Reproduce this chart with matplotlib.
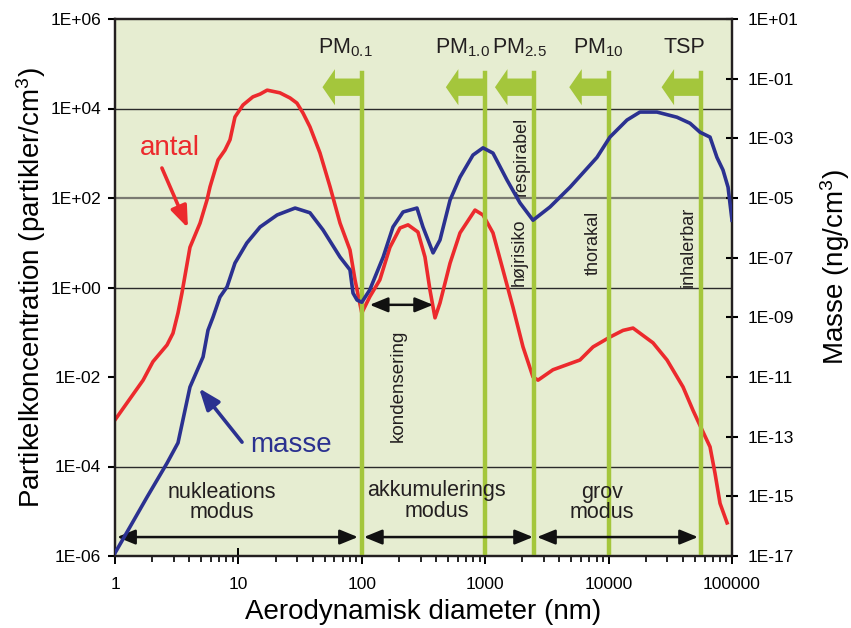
import matplotlib
matplotlib.use("Agg")
import matplotlib.pyplot as plt
from matplotlib.ticker import FixedLocator, FixedFormatter, NullLocator, NullFormatter, LogLocator

plt.rcParams['font.family'] = ['Liberation Sans', 'DejaVu Sans']
plt.rcParams['mathtext.fontset'] = 'custom'
plt.rcParams['mathtext.rm'] = 'Liberation Sans'
plt.rcParams['mathtext.it'] = 'Liberation Sans:italic'

# antal - number concentration (partikler/cm3), left axis
antal_d = [1, 1.69, 2.03, 2.64, 2.95, 3.24, 3.49, 4.05, 4.89, 5.57, 5.89, 6.84, 7.78, 8.55, 9.38,
           10.9, 13.1, 15.0, 17.1, 21.7, 26.2, 29.8, 33.4, 38.0, 45.8, 55.3, 66.6, 80.2, 88.1, 100,
           116, 140, 169, 204, 237, 285, 325, 357, 392, 430, 519, 625, 827, 960, 1156, 1394, 1680,
           2025, 2440, 2680, 3540, 5860, 7480, 10250, 13090, 15770, 22900, 29740, 40090, 48300,
           57150, 66350, 72800, 80000, 91200]
antal_n = [1.1e-3, 8.5e-3, 2.2e-2, 5.2e-2, 9.5e-2, 0.27, 0.76, 7.9, 27.5, 91, 178, 708, 1175,
           2000, 6460, 12000, 18200, 21000, 25700, 22400, 17200, 13200, 7900, 3890, 1020, 178, 27.5,
           6.9, 1.48, 0.27, 0.62, 1.48, 7.9, 21.4, 25.1, 17.4, 4.8, 0.87, 0.21, 0.45, 3.5, 16.6,
           53.7, 41.7, 16.6, 2.45, 0.36, 0.047, 0.010, 0.0085, 0.0145, 0.024, 0.047, 0.078, 0.11,
           0.124, 0.058, 0.024, 0.006, 0.0018, 6.6e-4, 2.75e-4, 7.1e-5, 1.5e-5, 5.5e-6]

# masse - mass concentration (ng/cm3), right axis
masse_d = [1, 1.32, 1.82, 2.64, 3.24, 4.05, 5.17, 5.67, 6.22, 7.09, 8.09, 9.38, 11.7, 15.0, 20.6,
           28.8, 38.0, 48.5, 66.6, 80.2, 84.9, 91.5, 100, 116, 149, 179, 216, 280, 313, 378, 430,
           519, 625, 796, 960, 1156, 1502, 1916, 2440, 3350, 4870, 8050, 10250, 14090, 17950,
           24660, 35800, 45700, 55100, 66350, 75500, 84500, 92900, 100000]
masse_m = [1.26e-17, 9.3e-17, 9.5e-16, 1.3e-14, 6.2e-14, 4.6e-12, 4.7e-11, 3.7e-10, 1.0e-9,
           4.8e-9, 1.05e-8, 6.6e-8, 3.1e-7, 1.07e-6, 2.7e-6, 4.6e-6, 3.2e-6, 8.5e-7, 1.05e-7,
           3.9e-8, 6.5e-9, 3.8e-9, 3.2e-9, 8.3e-9, 1.05e-7, 1.07e-6, 3.4e-6, 4.6e-6, 1.07e-6,
           1.45e-7, 3.9e-7, 8.5e-6, 5.0e-5, 2.75e-4, 4.8e-4, 3.2e-4, 4.0e-5, 6.8e-6, 1.8e-6,
           5.0e-6, 2.3e-5, 2.3e-4, 1.1e-3, 4.1e-3, 7.6e-3, 7.6e-3, 5.1e-3, 3.2e-3, 1.6e-3,
           1.1e-3, 2.3e-4, 8.7e-5, 2.3e-5, 1.8e-6]

# size cuts (nm) and labels
cut_sizes = [100, 1000, 2500, 10000, 56000]
cut_labels = [r'PM$_{0.1}$', r'PM$_{1.0}$', r'PM$_{2.5}$', r'PM$_{10}$', 'TSP']
cut_label_x = [73, 649, 1880, 8200, 40800]

x_ticks = [1, 10, 100, 1000, 10000, 100000]
left_exp = list(range(-6, 7, 2))
right_exp = list(range(1, -18, -2))
grid_levels = [1e4, 1e2, 1e0, 1e-4]

red = '#ec2a2d'
blue = '#2b3190'
green = '#a4c63c'
bg = '#e6edd1'
ink = '#231f20'

fig = plt.figure(figsize=(8.51, 6.28), dpi=100)
ax = fig.add_axes([115 / 851, 1 - 556 / 628, 617 / 851, 537 / 628])
ax.set_facecolor(bg)
ax.set_xscale('log')
ax.set_yscale('log')
ax.set_xlim(1, 1e5)
ax.set_ylim(1e-6, 1e6)

# horizontal lines
for g in grid_levels:
    if g == 1e2:
        ax.axhline(g, color='#7a7a72', lw=1.6, zorder=1)
    else:
        ax.axhline(g, color='#2a2a2a', lw=1.0, zorder=1)

# red curve
ax.plot(antal_d, antal_n, color=red, lw=2.6, zorder=2, solid_joinstyle='round')

# green cut lines + arrows
for xc, lab, lx in zip(cut_sizes, cut_labels, cut_label_x):
    ax.axvline(xc, ymin=0, ymax=0.90, color=green, lw=3.2, zorder=3)
    ax.annotate('', xy=(xc * 0.48, 0.873), xytext=(xc, 0.873),
                xycoords=('data', 'axes fraction'), textcoords=('data', 'axes fraction'),
                arrowprops=dict(arrowstyle='simple,head_length=0.9,head_width=2.6,tail_width=1.25',
                                color=green, lw=0, shrinkA=0, shrinkB=0, mutation_scale=10),
                zorder=3)
    ax.text(lx, 0.946, lab, transform=ax.get_xaxis_transform(), ha='center', va='center',
            fontsize=15.5, color=ink)

# rotated labels
ax.text(1950, 830, 'respirabel', rotation=90, ha='center', va='center', fontsize=13, color=ink)
ax.text(1880, 6.2, 'højrisiko', rotation=90, ha='center', va='center', fontsize=13, color=ink)
ax.text(7480, 10, 'thorakal', rotation=90, ha='center', va='center', fontsize=13, color=ink)
ax.text(44000, 8, 'inhalerbar', rotation=90, ha='center', va='center', fontsize=13, color=ink)
ax.text(196, 0.0063, 'kondensering', rotation=90, ha='center', va='center', fontsize=13.5, color=ink)

# curve labels
ax.text(2.79, 1300, 'antal', color=red, fontsize=20, ha='center', va='center')
ax.annotate('', xy=(3.9, 21.4), xytext=(2.40, 468),
            arrowprops=dict(arrowstyle='-|>,head_length=1.3,head_width=0.5', color=red, lw=2.6,
                            shrinkA=0, shrinkB=0, mutation_scale=10))
ax.text(26.7, 3.0e-4, 'masse', color=blue, fontsize=20, ha='center', va='center')
ax.annotate('', xy=(4.8, 5.6e-3), xytext=(10.7, 3.5e-4),
            arrowprops=dict(arrowstyle='-|>,head_length=1.3,head_width=0.5', color=blue, lw=2.6,
                            shrinkA=0, shrinkB=0, mutation_scale=10))

# mode labels and range arrows
ax.text(7.4, 1.6e-5, 'nukleations\nmodus', ha='center', va='center', fontsize=15.5,
        linespacing=0.95, color=ink)
ax.text(405, 1.7e-5, 'akkumulerings\nmodus', ha='center', va='center', fontsize=15.5,
        linespacing=0.95, color=ink)
ax.text(8840, 1.6e-5, 'grov\nmodus', ha='center', va='center', fontsize=15.5,
        linespacing=0.95, color=ink)
arrow_kw = dict(arrowstyle='<|-|>,head_length=1.1,head_width=0.45', color='#111111', lw=1.8,
                shrinkA=0, shrinkB=0, mutation_scale=10)
for x0, x1 in [(1.04, 93), (104, 2440), (2630, 53000)]:
    ax.annotate('', xy=(x1, 2.65e-6), xytext=(x0, 2.65e-6), arrowprops=arrow_kw)
ax.annotate('', xy=(378, 0.41), xytext=(116, 0.41), arrowprops=arrow_kw)

# axes formatting
ax.xaxis.set_major_locator(FixedLocator(x_ticks))
ax.xaxis.set_major_formatter(FixedFormatter([str(t) for t in x_ticks]))
ax.xaxis.set_minor_locator(LogLocator(base=10, subs=range(2, 10)))
ax.xaxis.set_minor_formatter(NullFormatter())
ax.yaxis.set_major_locator(FixedLocator([10.0 ** e for e in left_exp]))
ax.yaxis.set_major_formatter(FixedFormatter(['1E%+03d' % e for e in left_exp]))
ax.yaxis.set_minor_locator(NullLocator())
ax.tick_params(axis='x', which='major', direction='inout', length=12, width=1.4,
               labelsize=12.5, pad=9)
ax.tick_params(axis='x', which='minor', direction='out', length=4, width=1.2)
ax.tick_params(axis='y', direction='out', length=5, width=1.5, labelsize=12.5, pad=5)
for s in ax.spines.values():
    s.set_linewidth(1.6)
    s.set_color(ink)
ax.set_xlabel('Aerodynamisk diameter (nm)', fontsize=20, labelpad=5)
ax.set_ylabel('Partikelkoncentration (partikler/cm$^3$)', fontsize=20, labelpad=2)

# right axis (mass)
ax2 = ax.twinx()
ax2.set_yscale('log')
ax2.set_ylim(1e-17, 1e1)
ax2.plot(masse_d, masse_m, color=blue, lw=2.6, zorder=4, solid_joinstyle='round')
ax2.yaxis.set_major_locator(FixedLocator([10.0 ** e for e in right_exp]))
ax2.yaxis.set_major_formatter(FixedFormatter(['1E%+03d' % e for e in right_exp]))
ax2.yaxis.set_minor_locator(NullLocator())
ax2.tick_params(axis='y', direction='inout', length=9, width=1.5, labelsize=12.5, pad=7)
for s in ax2.spines.values():
    s.set_linewidth(1.6)
    s.set_color(ink)
ax2.set_ylabel('Masse (ng/cm$^3$)', fontsize=20)
ax2.yaxis.set_label_coords((818 - 115) / 617, (556 - 267) / 537)

fig.savefig('out.png', dpi=100)
